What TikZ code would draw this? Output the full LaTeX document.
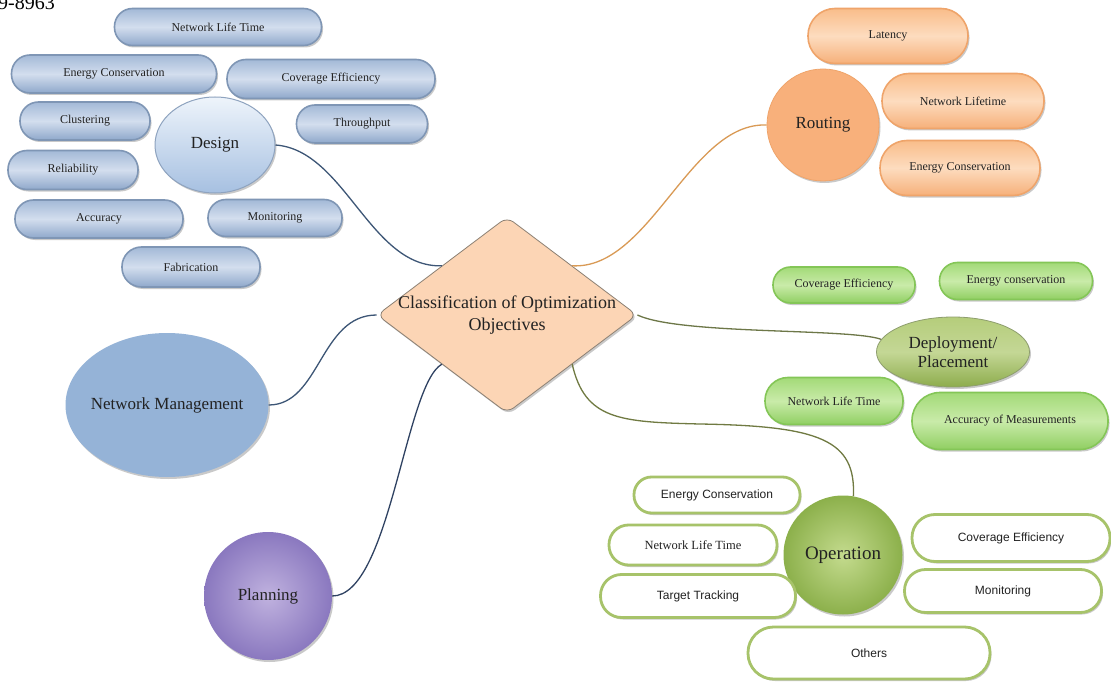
\documentclass[tikz,border=0pt]{standalone}
\usepackage{fontspec}
\setmainfont{Liberation Serif}
\setsansfont{Liberation Sans}
\usetikzlibrary{shapes.geometric,shadows}
\definecolor{txt}{HTML}{222222}
\definecolor{bluebd}{HTML}{7F96B5}
\definecolor{bluetop}{HTML}{A3B9D7}
\definecolor{bluemid}{HTML}{D3DEEE}
\definecolor{bluebot}{HTML}{8FA8CB}
\definecolor{destop}{HTML}{EEF4FB}
\definecolor{desbot}{HTML}{A6C0E1}
\definecolor{desbd}{HTML}{8EA3BF}
\definecolor{orbd}{HTML}{EFA46A}
\definecolor{ortop}{HTML}{F9BD8A}
\definecolor{ormid}{HTML}{FDDCBF}
\definecolor{orbot}{HTML}{F6B07A}
\definecolor{orcirc}{HTML}{F8B07B}
\definecolor{grbd}{HTML}{84C657}
\definecolor{grtop}{HTML}{A3DA78}
\definecolor{grmid}{HTML}{C9EBA9}
\definecolor{grbot}{HTML}{90CF62}
\definecolor{deptop}{HTML}{B5CD7B}
\definecolor{depbot}{HTML}{8DAC4C}
\definecolor{depbd}{HTML}{8E9E6E}
\definecolor{opin}{HTML}{C4DB8E}
\definecolor{opout}{HTML}{8CB04B}
\definecolor{whbd}{HTML}{A7C36A}
\definecolor{nmfill}{HTML}{95B3D7}
\definecolor{plin}{HTML}{C0B2DF}
\definecolor{plout}{HTML}{8A78BF}
\definecolor{diafill}{HTML}{FCD5B5}
\definecolor{diabd}{HTML}{8C8073}
\definecolor{cblue}{HTML}{3D5676}
\definecolor{cplan}{HTML}{2F4262}
\definecolor{corange}{HTML}{D99A55}
\definecolor{cdep}{HTML}{6D7748}
\definecolor{cop}{HTML}{707A42}
\begin{document}
\begin{tikzpicture}[x=1pt,y=-1pt,
  shad/.style={drop shadow={shadow xshift=1.5pt,shadow yshift=-2pt,opacity=0.35,fill=black!60}},
  pillbase/.style={rectangle, inner sep=0pt, text=txt, shad},
  sz/.style 2 args={minimum width=#1, minimum height=#2, rounded corners={#2/2-0.5}},
  smallserif/.style={font=\fontsize{12}{14}\selectfont},
  smallsans/.style={font=\sffamily\fontsize{12}{14}\selectfont},
  bluepill/.style={pillbase, smallserif, draw=bluebd, line width=1.6pt, top color=bluetop, bottom color=bluebot, middle color=bluemid},
  orpill/.style={pillbase, smallserif, draw=orbd, line width=1.6pt, top color=ortop, bottom color=orbot, middle color=ormid},
  grpill/.style={pillbase, smallserif, draw=grbd, line width=1.6pt, top color=grtop, bottom color=grbot, middle color=grmid},
  whpill/.style={pillbase, smallsans, draw=whbd, line width=2.8pt, fill=white},
  bigtext/.style={font=\fontsize{17}{19}\selectfont, text=txt, align=center},
  conn/.style={line width=1.3pt}
]
\useasboundingbox (0,0) rectangle (1111,682);
\fill[white] (0,0) rectangle (1111,682);

% header fragment
\node[anchor=base west, inner sep=0, font=\fontsize{20}{22}\selectfont] (hdr) at (-2,10) {9-8963};

% centre
\node[diamond, aspect=1.33, minimum width=260, minimum height=196, inner sep=-6pt,
  rounded corners=8pt, draw=diabd, line width=0.8pt, fill=diafill, shad,
  font=\fontsize{18}{22}\selectfont, text=txt, align=center] (cls) at (507,315)
  {Classification of Optimization\\Objectives};

% Design group
\node[ellipse, inner sep=-30pt, minimum width=120, minimum height=96, draw=desbd, line width=1pt,
  top color=destop, bottom color=desbot, shad, bigtext] (des) at (215,145) {Design};
\node[bluepill, sz={207}{37}] (dnlt) at (218,27) {Network Life Time};
\node[bluepill, sz={205}{38}] (dec) at (114,74) {Energy Conservation};
\node[bluepill, sz={208}{39}] (dcov) at (331,79) {Coverage Efficiency};
\node[bluepill, sz={130}{38}] (dclu) at (85,121) {Clustering};
\node[bluepill, sz={131}{38}] (dthr) at (362,124) {Throughput};
\node[bluepill, sz={130}{39}] (drel) at (73,170) {Reliability};
\node[bluepill, sz={168}{38}] (dacc) at (99,219) {Accuracy};
\node[bluepill, sz={134}{37}] (dmon) at (275,218) {Monitoring};
\node[bluepill, sz={138}{40}] (dfab) at (191,267) {Fabrication};

% Routing group
\node[circle, inner sep=-30pt, minimum size=112, draw=orbd, line width=0.8pt, fill=orcirc, shad, bigtext] (rt) at (823,125) {Routing};
\node[orpill, sz={160}{55}] (rlat) at (888,36) {Latency};
\node[orpill, sz={162}{55}] (rnl) at (963,101) {Network Lifetime};
\node[orpill, sz={160}{55}] (rec) at (960,168) {Energy Conservation};

% Deployment group
\node[ellipse, inner sep=-30pt, minimum width=153, minimum height=70, draw=depbd, line width=0.8pt,
  top color=deptop, bottom color=depbot, middle color=deptop!80!white, shad, bigtext] (dep) at (953,352) {Deployment/\\Placement};
\node[grpill, sz={142}{36}] (gcov) at (844,285) {Coverage Efficiency};
\node[grpill, sz={153}{37}] (gen) at (1016,281) {Energy conservation};
\node[grpill, sz={138}{47}] (gnl) at (834,401) {Network Life Time};
\node[grpill, sz={196}{57}] (gacc) at (1010,421) {Accuracy of Measurements};

% Operation group
\node[circle, inner sep=-30pt, minimum size=119, shading=radial, inner color=opin, outer color=opout, shad,
  font=\fontsize{19}{21}\selectfont, text=txt] (op) at (843,555) {Operation};
\node[whpill, sz={166}{36}] (oec) at (717,495) {Energy Conservation};
\node[whpill, font=\fontsize{12.5}{14}\selectfont, sz={168}{40}] (onl) at (693,545) {Network Life Time};
\node[whpill, sz={195}{43}] (ott) at (698,596) {Target Tracking};
\node[whpill, sz={198}{47}] (ocov) at (1011,538) {Coverage Efficiency};
\node[whpill, sz={197}{43}] (omon) at (1003,591) {Monitoring};
\node[whpill, sz={242}{52}] (oth) at (869,653) {Others};

% Network Management and Planning
\node[ellipse, inner sep=-30pt, minimum width=203, minimum height=144, fill=nmfill, shad, bigtext] (nm) at (167,405) {Network Management};
\node[circle, inner sep=-30pt, minimum size=128, shading=radial, inner color=plin, outer color=plout, shad, bigtext] (pl) at (268,596) {Planning};

% connectors
\draw[conn, cblue] (des.east) .. controls (345,150) and (370,268) .. (cls.north west);
\draw[conn, corange] (rt.west) .. controls (690,122) and (650,270) .. (cls.north east);
\draw[conn, cblue] (nm.east) .. controls (320,405) and (320,315) .. (cls.west);
\draw[conn, cplan] (pl.east) .. controls (390,596) and (405,385) .. (cls.south west);
\draw[conn, cdep] (cls.east) .. controls (680,335) and (850,328) .. (dep.170);
\draw[conn, cop] (cls.south east) .. controls (585,420) and (620,422) .. (700,424)
  .. controls (820,426) and (856,440) .. (op.80);
\end{tikzpicture}
\end{document}
